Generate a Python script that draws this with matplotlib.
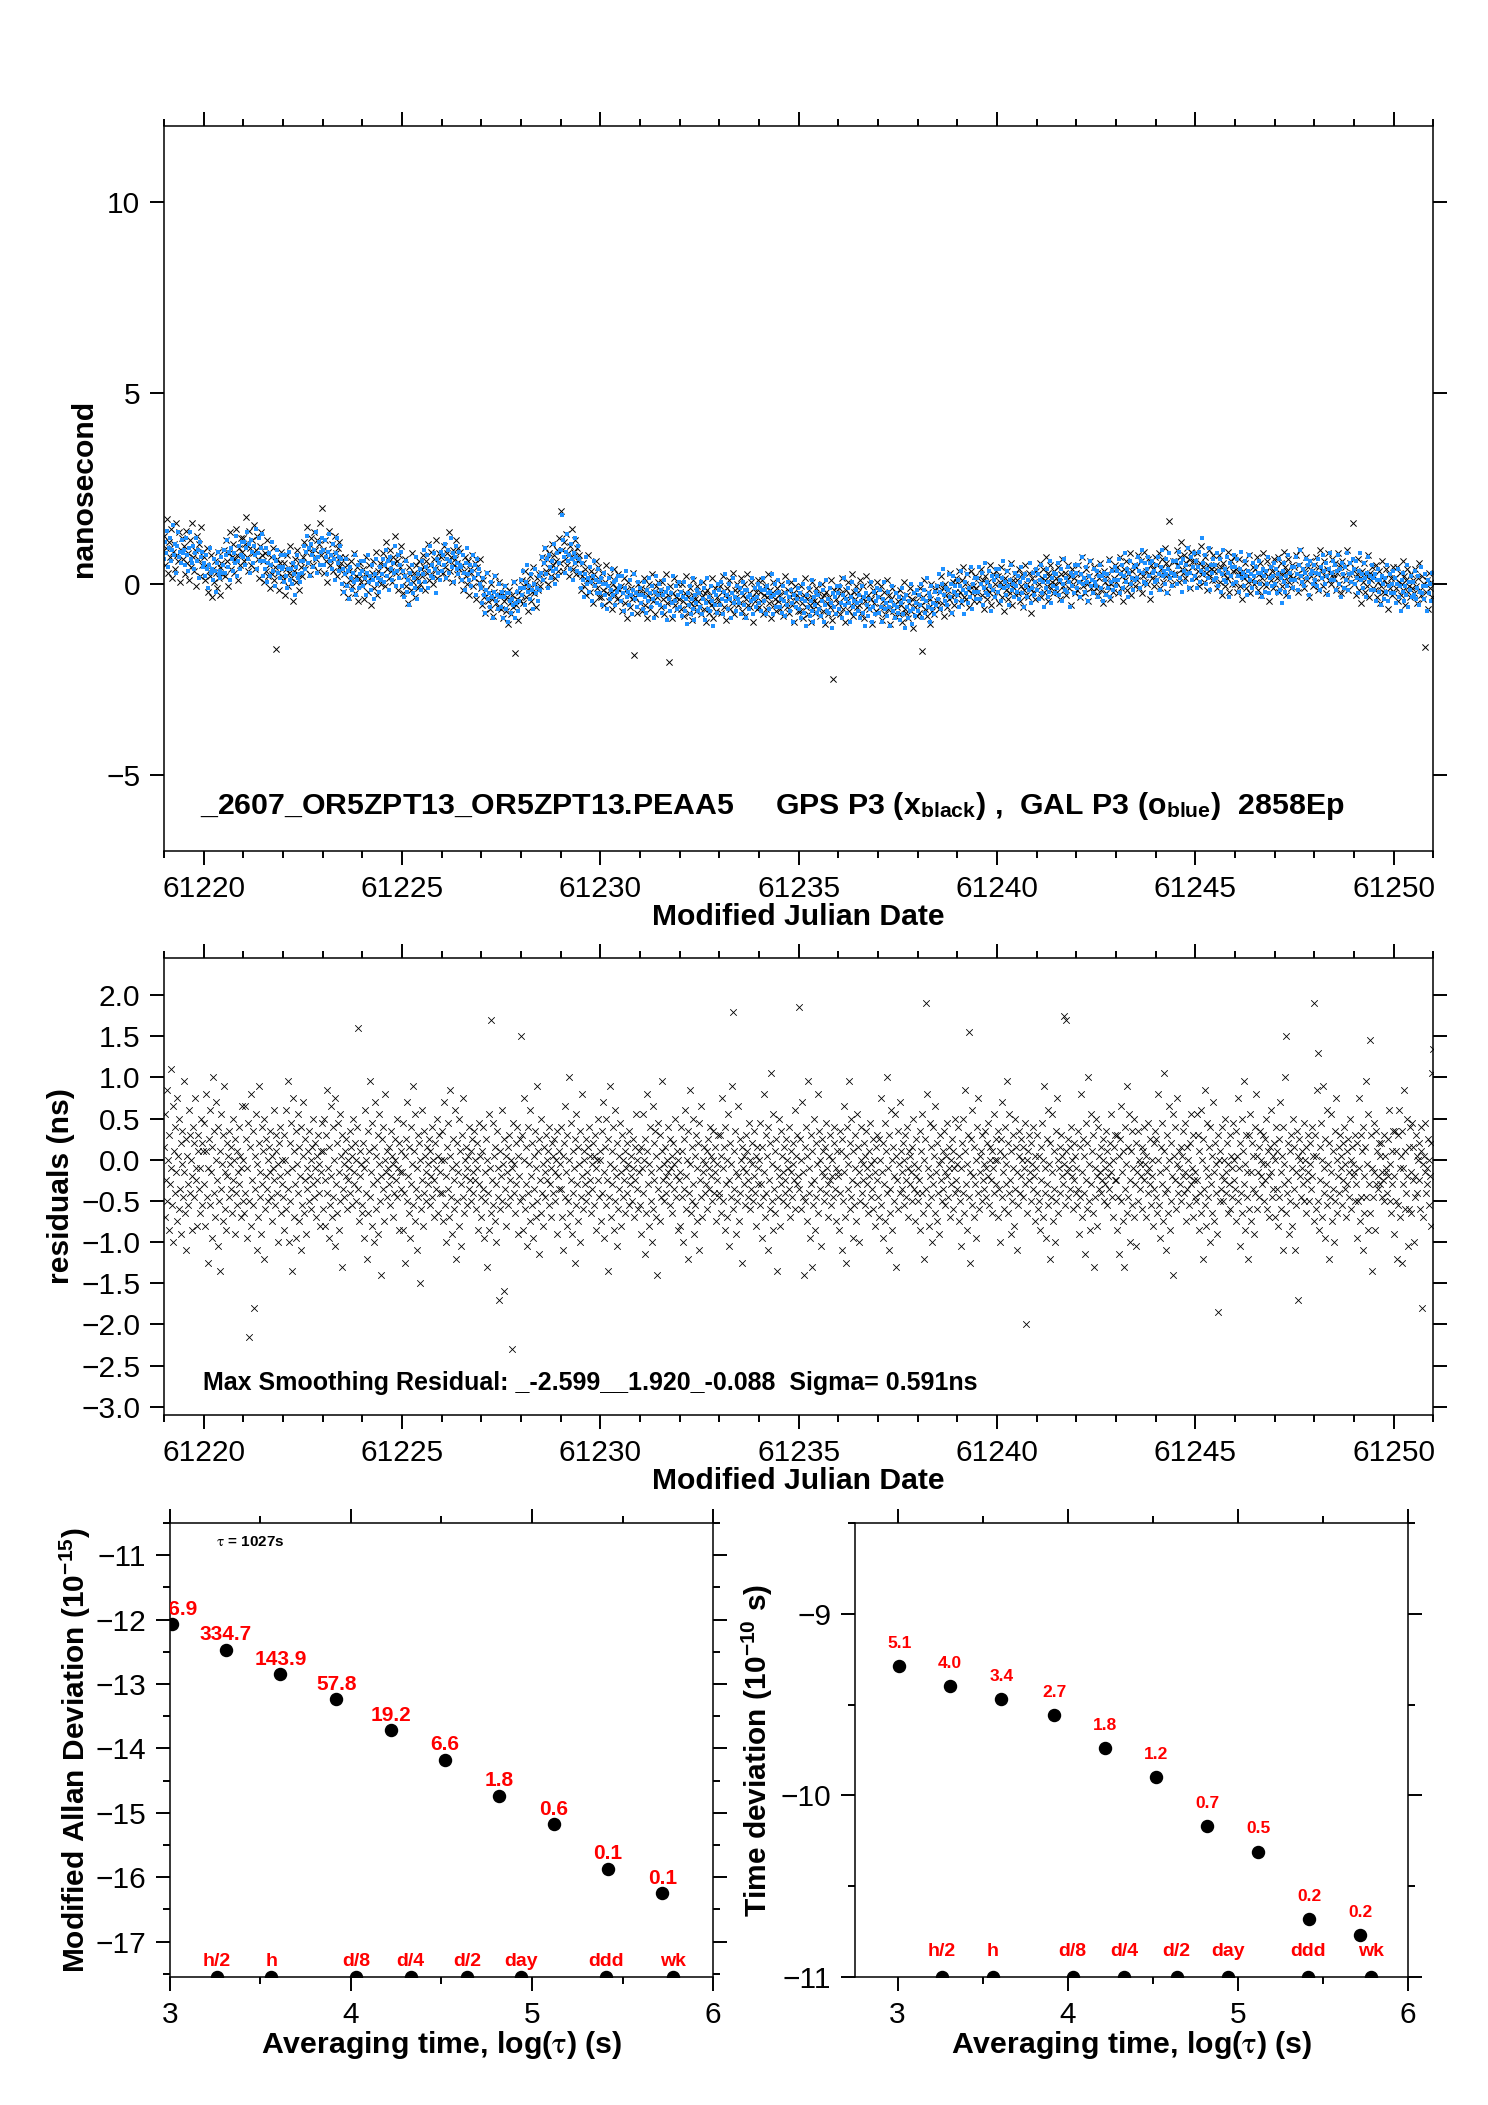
import numpy as np
import matplotlib
matplotlib.use("Agg")
import matplotlib.pyplot as plt
from matplotlib.ticker import MultipleLocator

plt.rcParams['font.family'] = ['Liberation Sans', 'DejaVu Sans']
plt.rcParams['mathtext.fontset'] = 'stix'

# ---------------- data ----------------
# first MJD of the run, one text row per day, values coded as 2-digit numbers
mjd_start = 61219

# GPS P3 clock offsets, ns = -2.8 + 0.05 * code
gps_days = [
    "81667590627870855973 77648871688357748069 76618467725879658870 63745581697760866673",
    "70586675526360714964 57686254735965506761 66746079685572836470 77626985715875668073",
    "80687791706384756679 72876474816959768371 68577263796066547061 75586522696253677360",
    "58675064715562765966 47636957746153686560 70786473866775618072 66837469796377887196",
    "74627968577384667177 63698172607565787067 64526170566649635868 55627251606547596757",
    "55644861705752665945 62685460735063586756 61726655786469597463 57706781626853716576",
    "63516069555846656153 72576249665954685664 60716553686277586673 61566964795967726370",
    "71627665597268836370 57746669796167756473 58665363706056685064 62715559674865615769",
    "54455849415362475143 56483952604650445750 43513847554249355346 40504457204548375247",
    "50584655634957425460 47526551564459536155 62705867756369567264 60776671596874638067",
    "94746378698266726076 70856473677961756871 62536067556450587157 52635946615668546549",
    "58496253455766515547 60524356645054486153 47554251594653385750 44544862194952415651",
    "46544251594553385056 43486147524055495751 53445748405261465015 55473851594549435648",
    "52435647395160454941 54463750584448425547 44524049574351365347 41504559384654424956",
    "47554152604450375448 58435146624053495645 53465942505639486145 51445749365447524358",
    "44524758405055434961 46533851574548425447 50435648395260464453 41495745513655475042",
    "51425546385059444840 53453649574347415446 43513948564250355246 40494458370653414855",
    "46544051594349365347 57425045613952485544 52455841495538476044 50435648355346514257",
    "41494455374752404658 43503548544245395144 47405345364957434150 38465442483352444739",
    "50415445214958434739 52443548564246405345 47554352604654395650 44534862414957455259",
    "57506352465865495648 61534455635155476054 51594756645058436054 48575266455361495663",
    "52604657654955425953 63485651674558546150 58516447556144536650 56496254415952574863",
    "53615667495964525870 55624760665457516356 59526557486169555362 50586654604564565951",
    "62536657496170555951 64564760685458526557 54625059675361466357 51605569485664525966",
    "57655162705460476458 68536156725063596655 65587154626851607357 63566961486659645570",
    "58666172546469576375 60675265895962566861 68617466577078646271 59677563695473656860",
    "68597263556776616557 70625366746064587163 58665463715765506761 55645973526068566370",
    "56645261695561486359 67546057715162586556 64577053616750597256 62556860476558635469",
    "56645970526267556173 58655063695760546659 65587161526674605764 54627058654968606355",
    "66577061536574596355 68605164725862566961 59675362725666516860 54655874536167576288",
    "56645061695359466357 67526055714962586554 60536649576346556852 58516456436154595065",
    "51595465475762505668 53604558645255496154 58516455465967535060 48562352584362545749",
]

# GAL P3 clock offsets, same coding
gal_days = [
    "69787284657580687487 71776276837073677972 74668071637583696776 64728068745978707365",
    "67607164546675626458 69635267736163597062 66746271796573587569 63726781606876647178",
    "70786675836977627973 67767185647280687582 60686475576772606678 63705568746265597164",
    "65577160546473586456 67615065715961576862 68766473816775607771 65746983627078667380",
    "74667970617382687164 77695872806770637669 56645261695563486559 53625771505866546168",
    "63556859506271576053 66584861695659526558 61695766746068537064 58676276556371596673",
    "55634960685258456256 66515954704861576453 68617457657154637660 66597264516962675873",
    "63716677596974626880 65725770766467617366 65587162536775615866 55637159665069616456",
    "54465950415362485144 57493852604750435649 44523849554351365147 41484557384652424754",
    "58506354455766525548 61534356645154476053 62705867756169547165 59686377566472606774",
    "74927970627382687164 77695872806770637669 62546758496170565952 65574760685558516457",
    "51594556625056435559 48536450574558526054 55476051425463495245 58504053614851445750",
    "54465043574941534759 51445548385260465056 45534150584452375448 42514660394755435057",
    "44523949574248355145 55404843593750465342 51445740485437465943 49425547345245504156",
    "53455748405261475043 56483851594649425548 46544051574553385349 43504759404854444956",
    "46544253594753405551 43524961405056445158 52444841554739514557 49425346365058444854",
    "43513848564147345044 54394742583649455241 50435639475336455842 48415446335144494055",
    "51435546385059454841 54463649574447405346 42503847554149345145 39484357364452404754",
    "49415344364857434639 52443447554245385144 41493746544048335044 38474256354351394653",
    "42504556384853414759 44513649554346405245 55486152435664504754 45536149564160525547",
    "50584455634753405751 61465449654356525948 59526548566245546751 57506355426053584964",
    "60526455475968545750 63554558665356496255 52604857655159446155 49585367465462505764",
    "53614858665157446054 64495752684659556251 61546750586447566953 59526557446255605166",
    "62546657496170565952 65574760685558516457 55634960665460476258 50615468495763535865",
    "55635869516166546072 57644962685659536558 66597063546874625767 56647060675168626357",
    "66587061536574606356 69615164725962556861 60685665735967526963 57666175546270586572",
    "60685465735763806761 71566459755366626958 66597255636952617458 64577062496760655671",
    "65576960526473596255 68605063715861546760 57655162685662496460 52635670515965556067",
    "56645161695359466357 67526055714962586554 65587061536674605764 55626959665068616356",
    "66586255696153655971 63566760506472586268 58665363715664496761 54655872536167576269",
    "64566859516372586154 67594962705760536659 53614758645258456056 48595266475561515663",
    "51594656644955425852 62475550664457536049 57506348546045526551 55486155425851564762",
]

# smoothing residuals, ns = -2.75 + 0.05 * code
res_days = [
    "58416650724555386149 77534468355747635240 70564365485937546246 52744260335644496761 47555138635946705350 39615748534265445957",
    "49643957714653306044 67523658754762415569 50346345572866485440 61734352385951564662 54485842655055376047 57445263495641536845",
    "55426847603653644512 58397150446219564866 33544159734652376349 57316543516048554558 52624656405367504457 61475435595163425549",
    "46613855674352744835 59456428537041574962 36544766405851336344 56694250603753485745 62515543584965465359 41565061475439575264",
    "57436550396147725336 58446851416346553470 49594264523866455629 61485446575160435550 53624758445665495259 45556348874057515442",
    "44593653674755316242 57744652396449583569 43565061375466455127 60486340557152465753 49584462515641544760 55506546533859524857",
    "52386447563060456951 42583663495473445740 66485333614659255543 67503962475652455849 54604457516346555041 59534865425661524755",
    "47624055694451355848 64415672465337605043 67543159455265395749 34614670425551584453 56486350574560524762 50554359533864495646",
    "41574863365245602955 47663853428950644456 40584935624653215743 51674554236048563952 58446150465509536447 54425949633756514560",
    "85466138557043495834 63475440675144593656 48624153734557326050 42654754395852466155 50574463495341595647 60524555376251485754",
    "48634156335946685239 61455575425064375747 53306044664940585435 62467151435755496045 52584763505642544859 56446153385565504657",
    "55406247695236584465 50286046547341574963 38534567513459435648 64395261465550574253 59475444624956514560 53415850664855435752",
    "44583753664755326042 57714954396345523568 43595062415627644853 40614657745054455851 47556352494460535642 59485465465157385550",
    "52396346573560486751 43553162475472425845 65493756446153405933 64504668415552584754 49574360534863515645 55624752584054506146",
    "47614256704553583863 49554166503459465473 43915748623752456851 40604755305853495644 61525746506443554859 54456251475639585349",
    "55446449365846715241 61475633635043597645 54386648574260285346 65513962495652455847 50604455534863415752 46595450674356496151",
    "92486043556946522758 45634056744753366149 29574465503859465471 42624855346052574551 58476453494156615044 55514659634853405752",
    "51386247573360456852 41563063485474435946 65503657446153406649 58355245635547545059 44566249534257516446 54486043555239585061",
    "46604155704452365949 64405775475333614842 67553858455166295650 62435469475752485944 55615046635341574956 52455865485440605147",
    "53455062385747664255 31609348714453396451 46583563495642685240 59475437615055455748 62524456516446535841 55496043575347655054",
    "48634056455334594765 42577249543861864652 30604467514158495536 63477043565257456150 54486253465951644455 58504257536647554960",
    "55416248573560466952 43566349547442594766 50375745615339654858 33524462564760515546 58534964155542575061 52455954486351564053",
    "47614356453858506441 55734753366049446754 31594652664057483562 45704255535847615156 49905444895752604653 58486351554359505647",
    "53446248375846715241 60475632645043597545 54386649574261295346 65513963485652475850 55604553496244575154 48595266465541585061",
    "50386146563260456852 40572963485473425846 66503557446253416549 59345245625548545158 43576350544156526447 53496044555139594862",
    "46604255714452365849 64405776475333614842 68553859455166275650 63435470475753495845 56625147645240584855 51445966495341615046",
    "52456650613857476742 55316048724453396451 46583563495642695240 59475437611855455748 63514555506547525942 54496143565346645055",
    "48624056704553345947 65425774495438614652 31614366524059485637 63477143565258466251 55496154456050654354 57514158526746564859",
    "55416348573960466952 43563363495475428547 59503757456153396548 58335244625621605155 46575349644555425850 61524559544863515640",
    "93614356724581385850 64415573475336604944 67543159465266405748 35624570425551584761 53564459506348544157 49605246655543585154",
    "52456149365945705340 61465733635142587446 54386649844261285346 64523862495751485949 56594652506145565253 47605167455442574962",
    "51376245573161446753 41563062495372435747 65513458436352426450 58355146615647555059 43576319544156526447 53496044555139597682",
]

# stability results: log10(tau), log10(MDEV), log10(TDEV)
log_tau = [3.01, 3.31, 3.61, 3.92, 4.22, 4.52, 4.82, 5.12, 5.42, 5.72]
mdev_log = [-12.07, -12.47, -12.85, -13.24, -13.72, -14.18, -14.74, -15.18, -15.87, -16.25]
mdev_text = ["856.9", "334.7", "143.9", "57.8", "19.2", "6.6", "1.8", "0.6", "0.1", "0.1"]
tdev_log = [-9.29, -9.40, -9.47, -9.56, -9.74, -9.90, -10.17, -10.31, -10.68, -10.77]
tdev_text = ["5.1", "4.0", "3.4", "2.7", "1.8", "1.2", "0.7", "0.5", "0.2", "0.2"]
span_names = ["h/2", "h", "d/8", "d/4", "d/2", "day", "ddd", "wk"]
span_log_tau = [3.26, 3.56, 4.03, 4.33, 4.64, 4.94, 5.41, 5.78]

title_txt = (r"_2607_OR5ZPT13_OR5ZPT13.PEAA5     GPS P3 (x$_{\mathregular{black}}$) ,  "
             r"GAL P3 (o$_{\mathregular{blue}}$)  2858Ep")
resid_txt = "Max Smoothing Residual: _-2.599__1.920_-0.088  Sigma= 0.591ns"


def unpack(days, offset, step):
    xs, ys = [], []
    for i, row in enumerate(days):
        vals = []
        for grp in row.split():
            vals += [int(grp[k:k + 2]) for k in range(0, len(grp) - 1, 2)]
        n = len(vals)
        xs += list(mjd_start + i + np.arange(n) / n)
        ys += [offset + step * v for v in vals]
    return np.array(xs), np.array(ys)


gps_x, gps_y = unpack(gps_days, -2.8, 0.05)
gal_x, gal_y = unpack(gal_days, -2.8, 0.05)
res_x, res_y = unpack(res_days, -2.75, 0.05)


def style(ax, size=21.5):
    ax.tick_params(which='both', direction='out', top=True, right=True,
                   labelsize=size, width=1.4, pad=7)
    ax.tick_params(which='major', length=10)
    ax.tick_params(which='minor', length=5)
    for s in ax.spines.values():
        s.set_linewidth(1.1)


fig = plt.figure(figsize=(14.88, 21.05), dpi=100)

# ---- top: clock offsets ----
ax1 = fig.add_axes([0.1102, 0.5957, 0.853, 0.3444])
ax1.scatter(gps_x, gps_y, marker='x', s=20, c='black', linewidths=0.7)
ax1.scatter(gal_x, gal_y, marker='s', s=9, c='#1E90FF', linewidths=0)
ax1.set_xlim(61219, 61251)
ax1.set_ylim(-7, 12)
ax1.xaxis.set_major_locator(MultipleLocator(5))
ax1.xaxis.set_minor_locator(MultipleLocator(1))
ax1.yaxis.set_major_locator(MultipleLocator(5))
style(ax1)
ax1.set_xlabel("Modified Julian Date", fontsize=21.7, fontweight='bold', labelpad=0)
ax1.set_ylabel("nanosecond", fontsize=21.7, fontweight='bold')
ax1.yaxis.set_label_coords(-0.052, 0.5)
ax1.text(0.028, 0.062, title_txt, transform=ax1.transAxes, fontsize=21.8,
         fontweight='bold', va='center')

# ---- middle: residuals ----
ax2 = fig.add_axes([0.1102, 0.3278, 0.853, 0.2171])
ax2.scatter(res_x, res_y, marker='x', s=22, c='black', linewidths=0.6)
ax2.set_xlim(61219, 61251)
ax2.set_ylim(-3.1, 2.45)
ax2.xaxis.set_major_locator(MultipleLocator(5))
ax2.xaxis.set_minor_locator(MultipleLocator(1))
ax2.yaxis.set_major_locator(MultipleLocator(0.5))
style(ax2)
ax2.set_xlabel("Modified Julian Date", fontsize=21.7, fontweight='bold', labelpad=0)
ax2.set_ylabel("residuals (ns)", fontsize=21.7, fontweight='bold')
ax2.yaxis.set_label_coords(-0.070, 0.5)
ax2.text(0.031, 0.07, resid_txt, transform=ax2.transAxes, fontsize=18,
         fontweight='bold', va='center')

# ---- bottom left: modified Allan deviation ----
ax3 = fig.add_axes([0.1142, 0.0608, 0.365, 0.2157])
ax3.set_xlim(3, 6)
ax3.set_ylim(-17.55, -10.5)
ax3.scatter(log_tau, mdev_log, s=75, c='black', zorder=3)
for x, y, t in zip(log_tau, mdev_log, mdev_text):
    ax3.annotate(t, (x, y), xytext=(0, 4), textcoords='offset points', ha='center',
                 va='bottom', color='red', fontsize=15, fontweight='bold',
                 clip_on=True)
y0 = ax3.get_ylim()[0]
ax3.scatter(span_log_tau, [y0] * len(span_log_tau), s=75, c='black', zorder=3)
for x, t in zip(span_log_tau, span_names):
    ax3.annotate(t, (x, y0), xytext=(0, 5), textcoords='offset points', ha='center',
                 va='bottom', color='red', fontsize=14, fontweight='bold')
ax3.text(0.085, 0.958, r"$\mathrm{\tau}$ = 1027s", transform=ax3.transAxes,
         fontsize=11, fontweight='bold', va='center')
ax3.xaxis.set_major_locator(MultipleLocator(1))
ax3.xaxis.set_minor_locator(MultipleLocator(0.5))
ax3.yaxis.set_major_locator(MultipleLocator(1))
ax3.yaxis.set_minor_locator(MultipleLocator(0.5))
style(ax3)
ax3.set_xlabel(r"Averaging time, log($\mathrm{\tau}$) (s)", fontsize=21.8,
               fontweight='bold', labelpad=0)
ax3.set_ylabel(r"Modified Allan Deviation (10$^{\mathregular{-15}}$)", fontsize=21.5,
               fontweight='bold')
ax3.yaxis.set_label_coords(-0.142, 0.5)

# ---- bottom right: time deviation ----
ax4 = fig.add_axes([0.5746, 0.0608, 0.3716, 0.2157])
ax4.set_xlim(2.75, 6)
ax4.set_ylim(-11, -8.5)
ax4.scatter(log_tau, tdev_log, s=75, c='black', zorder=3)
for x, y, t in zip(log_tau, tdev_log, tdev_text):
    ax4.annotate(t, (x, y), xytext=(0, 11), textcoords='offset points', ha='center',
                 va='bottom', color='red', fontsize=12.5, fontweight='bold')
y0 = ax4.get_ylim()[0]
ax4.scatter(span_log_tau, [y0] * len(span_log_tau), s=75, c='black', zorder=3)
for x, t in zip(span_log_tau, span_names):
    ax4.annotate(t, (x, y0), xytext=(0, 12), textcoords='offset points', ha='center',
                 va='bottom', color='red', fontsize=14, fontweight='bold')
ax4.xaxis.set_major_locator(MultipleLocator(1))
ax4.xaxis.set_minor_locator(MultipleLocator(0.5))
ax4.yaxis.set_major_locator(MultipleLocator(1))
ax4.yaxis.set_minor_locator(MultipleLocator(0.5))
style(ax4)
ax4.set_xlabel(r"Averaging time, log($\mathrm{\tau}$) (s)", fontsize=21.8,
               fontweight='bold', labelpad=0)
ax4.set_ylabel(r"Time deviation (10$^{\mathregular{-10}}$ s)", fontsize=21.5,
               fontweight='bold')
ax4.yaxis.set_label_coords(-0.144, 0.5)

fig.savefig("out.png", dpi=100)
